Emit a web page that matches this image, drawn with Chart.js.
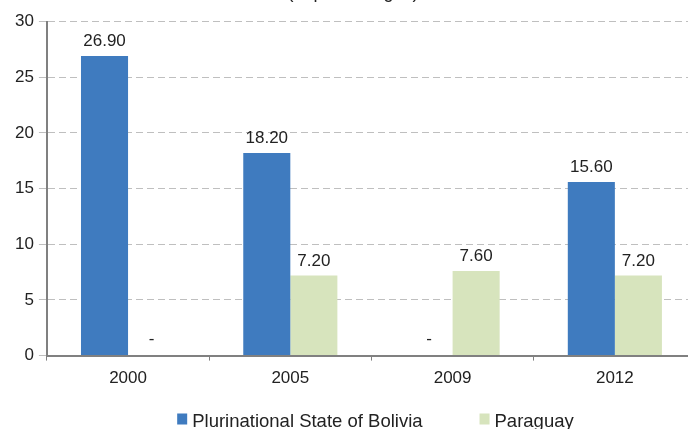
<!DOCTYPE html>
<html>
<head>
<meta charset="utf-8">
<script src="https://cdn.jsdelivr.net/npm/chart.js@4.4.0/dist/chart.umd.min.js"></script>
<style>
  html, body { margin: 0; padding: 0; background: #fff; }
  #marco { width: 688px; height: 429px; overflow: hidden; position: relative; }
  #lienzo { position: absolute; left: 0; top: -18px; width: 696px; height: 447px; }
</style>
</head>
<body>
<div id="marco"><div id="lienzo"><canvas id="grafico"></canvas></div></div>
<script>
// Datos del gráfico
const anios = ["2000", "2005", "2009", "2012"];
const bolivia = [26.9, 18.2, null, 15.6];
const paraguay = [null, 7.2, 7.6, 7.2];
const ticksY = [0, 5, 10, 15, 20, 25, 30];

const fuente = "'Liberation Sans', Arial, sans-serif";

// Plugin para escribir los valores encima de las barras
const etiquetas = {
  id: "etiquetas",
  afterDatasetsDraw(chart) {
    const ctx = chart.ctx;
    ctx.save();
    ctx.font = "17px " + fuente;
    ctx.fillStyle = "#222";
    ctx.textAlign = "center";
    ctx.textBaseline = "bottom";
    chart.data.datasets.forEach((ds, i) => {
      const meta = chart.getDatasetMeta(i);
      meta.data.forEach((barra, j) => {
        const v = ds.data[j];
        if (v === null) {
          ctx.fillText("-", barra.x, chart.scales.y.getPixelForValue(0) - 8);
        } else {
          ctx.fillText(v.toFixed(2), barra.x, barra.y - 6);
        }
      });
    });
    ctx.restore();
  }
};

// Leyenda dibujada a mano debajo del eje x
const leyenda = {
  id: "leyenda",
  afterDraw(chart) {
    const ctx = chart.ctx;
    const area = chart.chartArea;
    const caja = 10, sep = 5, hueco = 57;
    ctx.save();
    ctx.font = "18.5px " + fuente;
    ctx.textBaseline = "middle";
    ctx.textAlign = "left";
    const items = chart.data.datasets.map(ds => ({
      texto: ds.label,
      color: ds.backgroundColor,
      ancho: ctx.measureText(ds.label).width
    }));
    const total = items.reduce((s, it) => s + caja + sep + it.ancho, 0) + hueco * (items.length - 1);
    let x = (area.left + chart.width - 8) / 2 + 8 - total / 2;
    const y = chart.scales.x.bottom + 25;
    items.forEach(it => {
      ctx.fillStyle = it.color;
      ctx.fillRect(x, y - 8.5, caja, 11);
      ctx.fillStyle = "#222";
      ctx.fillText(it.texto, x + caja + sep, y);
      x += caja + sep + it.ancho + hueco;
    });
    ctx.restore();
  }
};

new Chart(document.getElementById("grafico"), {
  type: "bar",
  data: {
    labels: anios,
    datasets: [
      { label: "Plurinational State of Bolivia", data: bolivia, backgroundColor: "#3F7BBF" },
      { label: "Paraguay", data: paraguay, backgroundColor: "#D7E4BD" }
    ]
  },
  options: {
    responsive: true,
    maintainAspectRatio: false,
    animation: false,
    categoryPercentage: 0.58,
    barPercentage: 1,
    layout: { padding: { left: 10, right: 0, top: 0, bottom: 32 } },
    plugins: {
      title: {
        display: true,
        text: "(In percentages)",
        font: { family: fuente, size: 18, weight: "normal" },
        color: "#222",
        padding: { top: 0, bottom: 18 }
      },
      legend: { display: false },
      tooltip: { enabled: false }
    },
    scales: {
      x: {
        grid: { drawOnChartArea: false, tickLength: 5, color: "#808080" },
        border: { color: "#808080", width: 2 },
        ticks: { font: { family: fuente, size: 17 }, color: "#222", padding: 8 }
      },
      y: {
        min: 0,
        max: 30,
        afterBuildTicks: (eje) => { eje.ticks = ticksY.map(v => ({ value: v })); },
        grid: { color: "#BFBFBF", tickLength: 8, tickColor: "#BFBFBF" },
        border: { color: "#808080", width: 2, dash: [7, 4] },
        ticks: { font: { family: fuente, size: 17 }, color: "#222", padding: 5 }
      }
    }
  },
  plugins: [etiquetas, leyenda]
});
</script>
</body>
</html>
